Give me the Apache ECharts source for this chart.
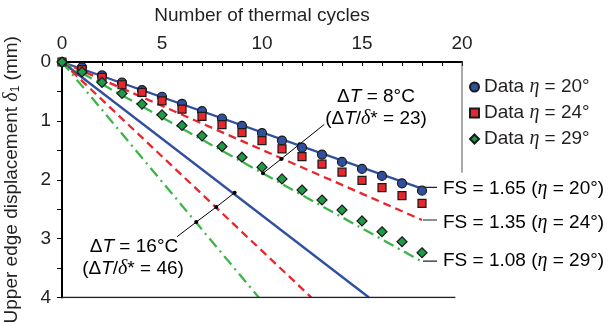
<!DOCTYPE html>
<html><head><meta charset="utf-8">
<script src="https://cdn.jsdelivr.net/npm/echarts@6/dist/echarts.min.js"></script>
<style>html,body{margin:0;padding:0;background:#fff}#c{width:611px;height:322px}</style>
</head><body><div id="c"></div>
<script>
// ---- data ----
const cycles = [0,1,2,3,4,5,6,7,8,9,10,11,12,13,14,15,16,17,18];
const data20 = [0,0.09,0.228,0.352,0.477,0.59,0.71,0.834,0.96,1.084,1.209,1.334,1.453,1.572,1.697,1.816,1.935,2.06,2.185];
const data24 = [0,0.13,0.26,0.386,0.517,0.66,0.8,0.925,1.062,1.198,1.334,1.476,1.607,1.736,1.872,2.01,2.134,2.27,2.40];
const data29 = [0,0.17,0.347,0.534,0.715,0.897,1.079,1.254,1.436,1.617,1.786,1.986,2.174,2.344,2.514,2.70,2.883,3.053,3.24];
const seriesNames = ['Data η = 20°','Data η = 24°','Data η = 29°'];
// simulated lines (x, y endpoints)
const dT8_x = [0, 18];
const fs165_dT8 = [0, 2.15];
const fs135_dT8 = [0, 2.684];
const fs108_dT8 = [0, 3.39];
const dT16_y = [0, 4];
const fs165_dT16_x = [0, 15.35];
const fs135_dT16_x = [0, 12.47];
const fs108_dT16_x = [0, 9.84];
// FS label leaders
const leaderX = [18.05, 18.75];
const leaderY = [2.13, 2.684, 3.382];
const fsLabels = ['1.65','1.35','1.08'];
const fsEta = ['20°','24°','29°'];
// annotation pointer lines [x,y]
const ann16 = [[5.75,2.968],[6.715,2.718],[7.715,2.463],[8.63,2.22]];
const ann8 = [[13.115,1.059],[11.88,1.396],[10.965,1.646],[10.05,1.89]];
const xTicks = [0,5,10,15,20];
const yTicks = [0,1,2,3,4];

const BLUE='#2f4f9f', RED='#e8262b', GREEN_L='#3bb54a', GREEN_M='#1f9a47', TXT='#231f20';
const FONT='"Liberation Sans", Arial, sans-serif';
const FS=19;
const rich = {
  a:{fontFamily:FONT,fontSize:FS,color:TXT},
  i:{fontFamily:'"Liberation Sans", Arial, sans-serif',fontStyle:'italic',fontSize:FS,color:TXT},
  g:{fontFamily:'"Liberation Serif", "Times New Roman", serif',fontStyle:'italic',fontSize:FS+1,color:TXT},
  s:{fontFamily:FONT,fontSize:12,color:TXT,padding:[9,0,0,0]}
};

const chart = echarts.init(document.getElementById('c'));
function pts(xs, ys){ return xs.map((x,i)=>[x, ys[i]]); }
function lineSeries(data, color, type, width){
  return {type:'line', data, symbol:'none', silent:true, animation:false,
    lineStyle:{color, width:width||2, type:type||'solid'}, z:2};
}
const series = [
  lineSeries(pts(dT8_x, fs165_dT8), BLUE, 'solid', 2.3),
  lineSeries(pts(dT8_x, fs135_dT8), RED, [8,5], 2.3),
  lineSeries(pts(dT8_x, fs108_dT8), GREEN_L, [11,5,2,5], 2.3),
  lineSeries(pts(fs165_dT16_x, dT16_y), BLUE, 'solid', 2.3),
  lineSeries(pts(fs135_dT16_x, dT16_y), RED, [8,5], 2.3),
  lineSeries(pts(fs108_dT16_x, dT16_y), GREEN_L, [11,5,2,5], 2.3),
];
leaderY.forEach(y=>series.push(lineSeries(leaderX.map(x=>[x,y]), '#222', 'solid', 1.2)));
// frame: partial right border, bottom line
series.push(lineSeries([[20,0],[20,1.88]], '#555', 'solid', 1));
series.push(lineSeries([[0,4],[19.67,4]], '#222', 'solid', 1.5));
// annotation pointers
[ann16, ann8].forEach(a=>{
  series.push({type:'line', silent:true, animation:false, z:4,
    data: a.map((p,i)=> i===0 ? {value:p, symbolSize:0} : {value:p}),
    symbol:'circle', symbolSize:4, showSymbol:true,
    itemStyle:{color:'#000'}, lineStyle:{color:'#000', width:1}});
});
const markers = [
  {name:seriesNames[0], data:data20, symbol:'circle', size:9, color:BLUE},
  {name:seriesNames[1], data:data24, symbol:'rect', size:8, color:RED},
  {name:seriesNames[2], data:data29, symbol:'diamond', size:10, color:GREEN_M},
];
markers.forEach((m,k)=>{
  series.push({type:'scatter', name:m.name, data: pts(cycles, m.data), symbol:m.symbol,
    symbolSize:m.size, z:5+k, animation:false,
    itemStyle:{color:m.color, borderColor:'#1a1a1a', borderWidth:1.2, opacity:1}});
});

const graphic = [];
function addText(x, y, text, align){
  graphic.push({type:'text', x, y, silent:true, style:{text, rich, textAlign:align||'center', textVerticalAlign:'middle', font: FS+'px '+FONT}});
}
addText(376, 97, '{a|Δ}{i|T}{a| = 8°C}');
addText(376, 119, '{a|(Δ}{i|T}{a|/}{g|δ}{a|* = 23)}');
addText(134, 247, '{a|Δ}{i|T}{a| = 16°C}');
addText(133, 269, '{a|(Δ}{i|T}{a|/}{g|δ}{a|* = 46)}');
const fsY = [189, 223, 261];
fsLabels.forEach((v,i)=>addText(443, fsY[i], '{a|FS = '+v+' (}{g|η}{a| = '+fsEta[i]+')}', 'left'));

chart.setOption({
  animation:false,
  backgroundColor:'#fff',
  grid:{left:62, right:149, top:62, bottom:24.5, containLabel:false, outerBoundsMode:'none'},
  legend:{
    data:seriesNames, orient:'vertical', left:464, top:72, itemWidth:9, itemHeight:9, itemGap:6,
    textStyle:{rich, lineHeight:20},
    formatter: n => '{a|Data }{g|η}{a| = '+n.split('= ')[1]+'}'
  },
  xAxis:{type:'value', position:'top', min:0, max:20, interval:1,
    name:'Number of thermal cycles', nameLocation:'middle', nameGap:37,
    nameTextStyle:{fontFamily:FONT, fontSize:FS, color:TXT},
    axisLine:{show:true, lineStyle:{color:'#000', width:2}},
    axisTick:{show:true, inside:true, length:4, lineStyle:{color:'#000', width:1}},
    axisLabel:{margin:9, fontFamily:FONT, fontSize:FS, color:TXT,
      formatter: v => xTicks.includes(v) ? String(v) : ''},
    splitLine:{show:false}},
  yAxis:{type:'value', inverse:true, min:0, max:4, interval:0.5,
    name:'{a|Upper edge displacement }{g|δ}{s|1}{a| (mm)}', nameLocation:'middle', nameGap:40,
    nameTextStyle:{rich},
    axisLine:{show:true, lineStyle:{color:'#000', width:2}},
    axisTick:{show:true, inside:false, length:5, lineStyle:{color:'#000', width:1}},
    axisLabel:{margin:11, fontFamily:FONT, fontSize:FS, color:TXT,
      formatter: v => yTicks.includes(v) ? String(v) : ''},
    splitLine:{show:false}},
  series,
  graphic
});
</script></body></html>
